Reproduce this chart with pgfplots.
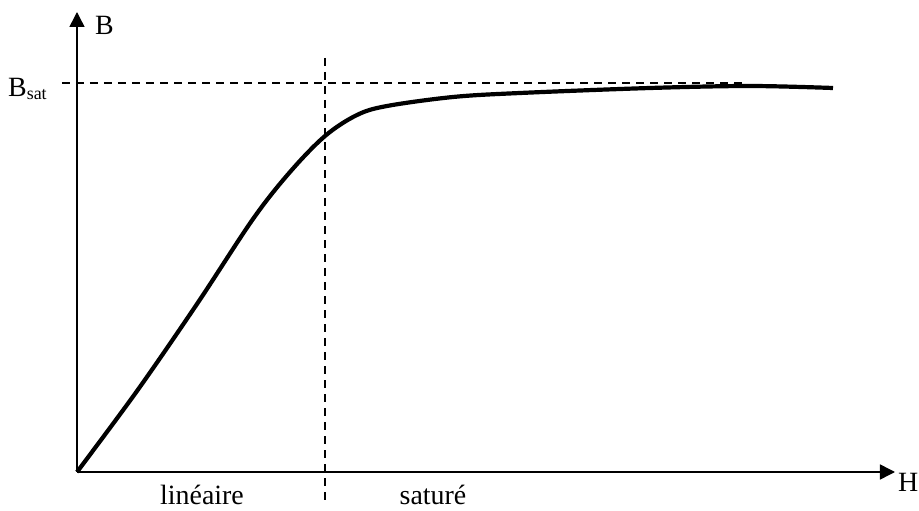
\documentclass[border=0pt]{standalone}
\usepackage{pgfplots}
\pgfplotsset{compat=1.18}
\usetikzlibrary{arrows.meta}
\usepackage{fontspec}
\setmainfont{Liberation Serif}
\begin{document}
\begin{tikzpicture}
\useasboundingbox (-77bp,-39bp) rectangle (842bp,472bp);
\begin{axis}[
  at={(0,0)}, anchor=origin,
  x=1bp, y=1bp,
  xmin=0, xmax=818, ymin=0, ymax=460,
  axis lines=left, ticks=none, clip=false,
  axis line style={line width=1.5bp, -{Triangle[length=15bp,width=15bp]}},
]
% B-H curve
\addplot[black, line width=4.2bp, smooth, tension=0.55] coordinates {
(0,0) (60,81) (120,168) (176,253) (213,300) (248,336) (280,357)
(310,366) (376,375) (443,379) (573,384) (673,386) (756,384)
};
% Bsat dashed line
\addplot[black, line width=1.5bp, dash pattern=on 8bp off 6bp] coordinates {(-15,389) (665,389)};
% boundary dashed line
\addplot[black, line width=1.5bp, dash pattern=on 8bp off 6bp] coordinates {(248,414) (248,-30)};
\node[anchor=base west, font=\fontsize{28}{30}\selectfont, inner sep=0pt] at (axis cs:18,437) {B};
\node[anchor=base west, font=\fontsize{28}{30}\selectfont, inner sep=0pt] at (axis cs:821,-20) {H};
\node[anchor=base west, font=\fontsize{28}{30}\selectfont, inner sep=0pt] at (axis cs:-69,375) {B\raisebox{-3bp}{\fontsize{18}{20}\selectfont sat}};
\node[anchor=base, font=\fontsize{28}{30}\selectfont, inner sep=0pt] at (axis cs:125,-33) {linéaire};
\node[anchor=base, font=\fontsize{28}{30}\selectfont, inner sep=0pt] at (axis cs:356,-33) {saturé};
\end{axis}
\end{tikzpicture}
\end{document}
